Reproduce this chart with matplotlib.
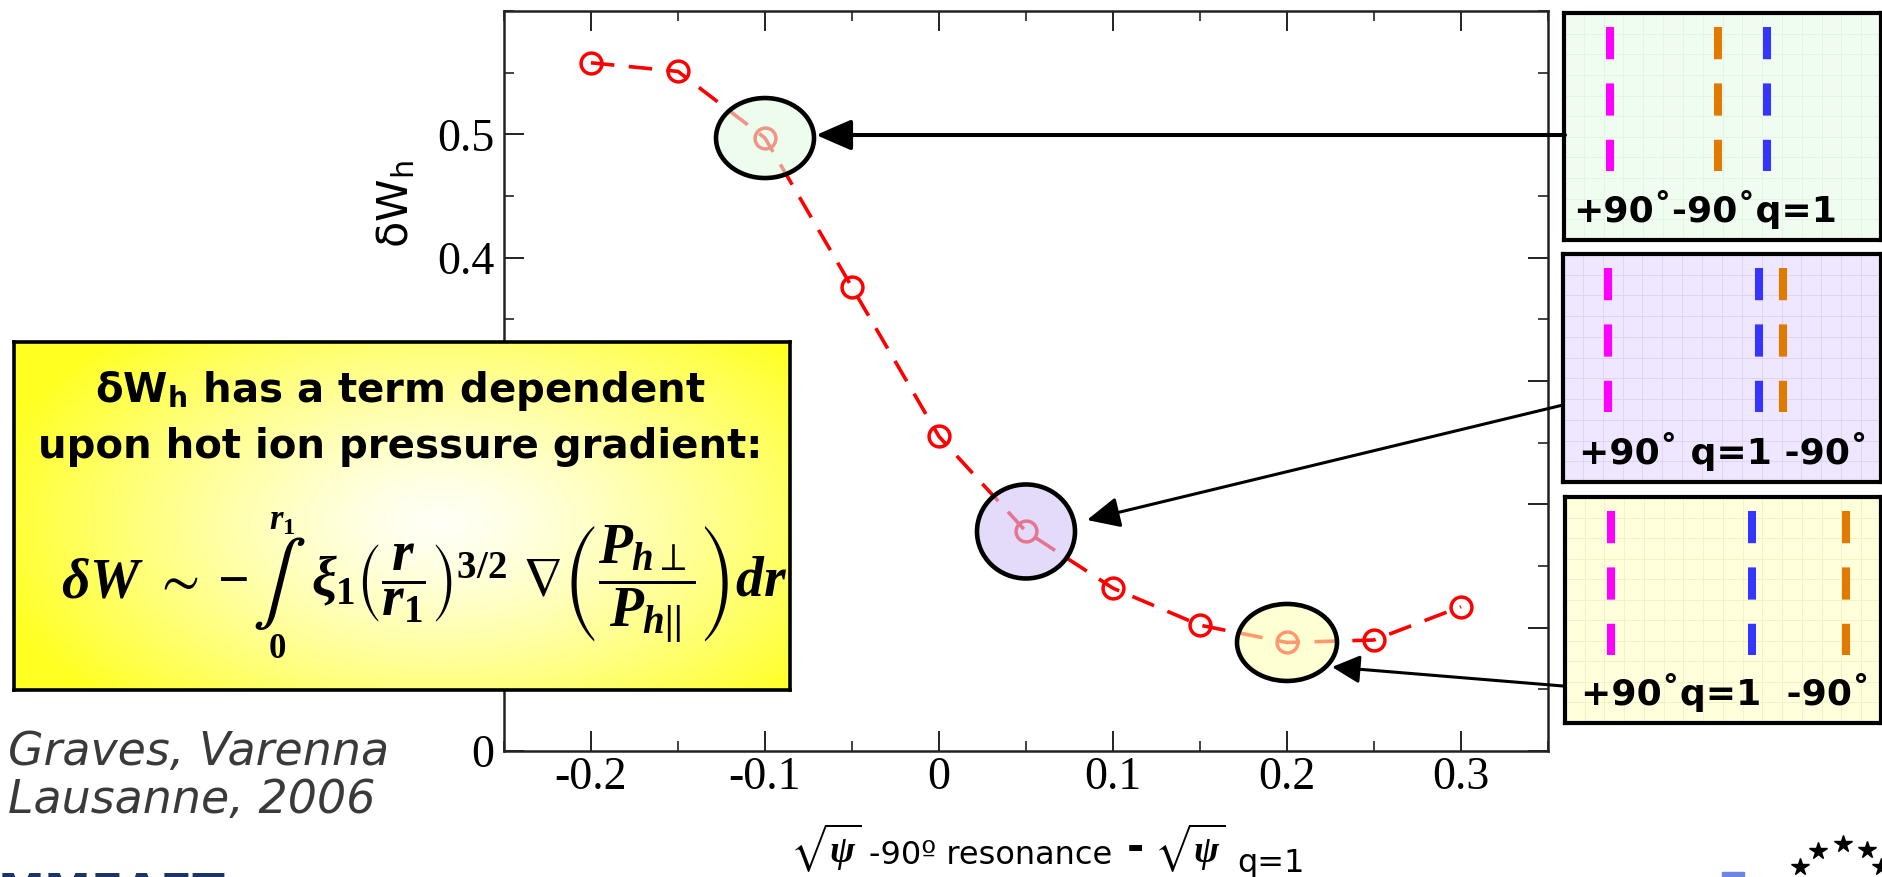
import matplotlib
matplotlib.use('Agg')
import matplotlib.pyplot as plt
import numpy as np
from matplotlib.patches import Ellipse, FancyArrowPatch, ArrowStyle, Rectangle
from matplotlib.lines import Line2D
from matplotlib.ticker import MultipleLocator
from matplotlib.colors import to_rgba

# values
offset = [-0.2, -0.15, -0.1, -0.05, 0.0, 0.05, 0.1, 0.15, 0.2, 0.25, 0.3]
dW_h = [0.558, 0.551, 0.497, 0.376, 0.255, 0.178, 0.132, 0.102, 0.088, 0.090, 0.117]
x_ticks = [-0.2, -0.1, 0.0, 0.1, 0.2, 0.3]
x_tick_labels = ['-0.2', '-0.1', '0', '0.1', '0.2', '0.3']
y_ticks = [0.0, 0.1, 0.2, 0.3, 0.4, 0.5]
y_tick_labels = ['0', '0.1', '0.2', '0.3', '0.4', '0.5']

# highlighted points (index into the series) and the inset panel they belong to
highlight_idx = [2, 5, 8]
highlight_fill = ['#e2fae2', '#d3c4f7', '#ffffb8']

# inset panels: resonance positions as fraction of panel width
panel_labels = ['+90˚-90˚q=1', '+90˚ q=1 -90˚', '+90˚q=1  -90˚']
pos_plus90 = [0.145, 0.142, 0.146]
pos_minus90 = [0.486, 0.692, 0.889]
pos_q1 = [0.640, 0.616, 0.592]
panel_fill = ['#f1fcf1', '#efe7ff', '#ffffdc']
panel_grid = ['#e2f4e2', '#e0d3f7', '#f2f2c6']

W, H = 1883, 877


def fx(x):
    return x / W


def fy(y):
    return 1 - y / H


plt.rcParams['axes.unicode_minus'] = False
plt.rcParams['mathtext.fontset'] = 'custom'
plt.rcParams['mathtext.rm'] = 'Liberation Serif:bold'
plt.rcParams['mathtext.it'] = 'Liberation Serif:bold:italic'
plt.rcParams['mathtext.bf'] = 'Liberation Serif:bold'
plt.rcParams['mathtext.fallback'] = 'stix'

fig = plt.figure(figsize=(W / 100, H / 100), dpi=100)
renderer = fig.canvas.get_renderer()

# ---- main plot
ax = fig.add_axes([fx(504), fy(751), 1044 / W, 740 / H])
ax.plot(offset, dW_h, color='red', ls=(0, (6.5, 4)), lw=2.6, marker='o', ms=15,
        mfc='none', mec='red', mew=2.5, zorder=2)
ax.set_xlim(-0.25, 0.35)
ax.set_ylim(0, 0.6)
ax.set_xticks(x_ticks)
ax.set_xticklabels(x_tick_labels)
ax.set_yticks(y_ticks)
ax.set_yticklabels(y_tick_labels)
ax.xaxis.set_minor_locator(MultipleLocator(0.05))
ax.yaxis.set_minor_locator(MultipleLocator(0.05))
ax.tick_params(which='both', direction='in', top=True, right=True, color='#222222')
ax.tick_params(which='major', length=14.5, width=1.4, pad=4, labelsize=33)
ax.tick_params(which='minor', length=7.2, width=1.2)
ax.tick_params(axis='y', which='major', pad=7)
for lab in ax.get_xticklabels() + ax.get_yticklabels():
    lab.set_family('Liberation Serif')
# labels 0.1-0.3 sit behind the formula box
for val, lab in zip(y_ticks, ax.get_yticklabels()):
    if 0.05 < val < 0.35:
        lab.set_visible(False)
for s in ax.spines.values():
    s.set_linewidth(1.8)
    s.set_color('#222222')

# circled points, sizes in pixels
dx_px = 0.6 / 1044
dy_px = 0.6 / 740
ell_px = [(98, 80), (98, 94), (100, 77)]
for i, fill, (w, h) in zip(highlight_idx, highlight_fill, ell_px):
    ax.add_patch(Ellipse((offset[i], dW_h[i]), w * dx_px, h * dy_px,
                         facecolor=to_rgba(fill, 0.6), edgecolor='black', lw=3.3, zorder=3))

# ---- axis labels
fig.text(fx(396), fy(204), r'$\mathrm{\delta W_h}$', rotation=90, ha='center', va='center',
         fontsize=31, math_fontfamily='dejavusans')


def place_row(pieces, x0, y_base):
    # lay out text pieces left to right, measuring each one
    x = x0
    for s, size, dy, gap, kw in pieces:
        t = fig.text(fx(x + gap), fy(y_base + dy), s, fontsize=size, va='baseline', zorder=10, **kw)
        x += gap + t.get_window_extent(renderer).width


place_row([(r'$\sqrt{\psi}$', 27, 0, 0, {}),
           ('-90º resonance', 23, 2, 8, {}),
           ('-', 30, -2, 14, {'fontweight': 'bold'}),
           (r'$\sqrt{\psi}$', 27, 0, 10, {}),
           ('q=1', 23, 10, 12, {})], 790, 862)

# ---- yellow formula box
bax = fig.add_axes([fx(14), fy(690), 776 / W, 348 / H], zorder=5)
gy, gx = np.mgrid[0:1:200j, 0:1:450j]
r = np.sqrt(((gx - 0.55) / 0.6) ** 2 + ((gy - 0.52) / 0.75) ** 2)
t = np.clip(r, 0, 1) ** 1.3
white = np.array([1.0, 1.0, 0.97])
yellow = np.array([1.0, 1.0, 0.13])
bax.imshow(white * (1 - t[..., None]) + yellow * t[..., None], extent=[0, 1, 0, 1], aspect='auto')
bax.set_xticks([])
bax.set_yticks([])
for s in bax.spines.values():
    s.set_linewidth(2.6)
    s.set_color('black')

fig.text(fx(400), fy(402), 'δW$_{\\mathregular{h}}$ has a term dependent', ha='center', va='baseline',
         fontsize=29, fontweight='bold', zorder=10)
fig.text(fx(400), fy(458), 'upon hot ion pressure gradient:', ha='center', va='baseline',
         fontsize=29, fontweight='bold', zorder=10)

# formula: left part, a tall integral with its limits, then the integrand
lhs = fig.text(fx(61), fy(597), r'$\delta W\ \sim -$', fontsize=40, va='baseline', zorder=10)
x_int = 61 + lhs.get_window_extent(renderer).width + 4
integral = fig.text(fx(x_int), fy(583), r'$\int$', fontsize=58, va='center', zorder=10,
                    math_fontfamily='stix')
int_w = integral.get_window_extent(renderer).width
fig.text(fx(x_int + int_w / 2 + 4), fy(520), r'$r_1$', fontsize=25, ha='center', va='center', zorder=10)
fig.text(fx(x_int + int_w / 2 - 2), fy(648), r'$0$', fontsize=25, ha='center', va='center', zorder=10)
fig.text(fx(x_int + int_w + 6), fy(597),
         r'$\xi_1\left(\dfrac{r}{r_1}\right)^{3/2}\ \nabla\left(\dfrac{P_{h\perp}}{P_{h||}}\right)dr$',
         fontsize=40, va='baseline', zorder=10)

# ---- citation
fig.text(fx(8), fy(765), 'Graves, Varenna', fontsize=33, style='italic', color='#3a3a3a')
fig.text(fx(8), fy(813), 'Lausanne, 2006', fontsize=33, style='italic', color='#3a3a3a')

# ---- inset panels
panel_px = [(1564, 13, 240), (1563, 254, 482), (1565, 497, 723)]
for k, (left, top, bottom) in enumerate(panel_px):
    pax = fig.add_axes([fx(left), fy(bottom), (1881 - left) / W, (bottom - top) / H])
    pax.set_facecolor(panel_fill[k])
    pax.set_xlim(0, 1)
    pax.set_ylim(0, 1)
    pax.set_xticks(np.linspace(0, 1, 17))
    pax.set_yticks(np.linspace(0, 1, 12))
    pax.grid(color=panel_grid[k], lw=0.7)
    pax.tick_params(length=0, labelbottom=False, labelleft=False)
    for s in pax.spines.values():
        s.set_linewidth(3)
        s.set_color('black')
    ht = bottom - top
    y_top = 1 - 14 / ht
    y_bot = 1 - 158 / ht
    for pos, col in [(pos_plus90[k], '#ff00ff'), (pos_minus90[k], '#e07a00'), (pos_q1[k], '#3535ff')]:
        pax.plot([pos, pos], [y_top, y_bot], color=col, lw=5.8, ls=(0, (4, 3)),
                 solid_capstyle='butt', dash_capstyle='butt')
    pax.text(0.03 if k == 0 else 0.05, 0.08, panel_labels[k], transform=pax.transAxes,
             fontsize=26, fontweight='bold', va='baseline', ha='left')

# ---- arrows from panels to circled points
arrows = [((1565, 135), (816, 135), 21.6, 9.4, 2.9),
          ((1563, 405), (1087, 520), 20, 9.4, 2.2),
          ((1563, 686), (1332, 667), 17, 8.6, 2.2)]
for (xa, ya), (xb, yb), hl, hw, lw in arrows:
    fig.add_artist(FancyArrowPatch((fx(xa), fy(ya)), (fx(xb), fy(yb)), transform=fig.transFigure,
                                   arrowstyle=ArrowStyle('-|>', head_length=hl, head_width=hw),
                                   mutation_scale=1, lw=lw, color='black',
                                   shrinkA=0, shrinkB=0, zorder=6))

# ---- cut-off logos at the bottom edge
fig.text(fx(-2), fy(872), 'MMEAET', fontsize=34, fontweight='bold', color='#1d3566', va='top')
fig.add_artist(Rectangle((fx(1722), 0), 22 / W, 5 / H, color='#6f86e0', transform=fig.transFigure))
star_px = [(1800, 867), (1818, 851), (1843, 844), (1867, 850), (1881, 867)]
fig.add_artist(Line2D([fx(p[0]) for p in star_px], [fy(p[1]) for p in star_px],
                      transform=fig.transFigure, ls='none', marker='*', ms=13, color='black'))

fig.savefig('out.png', dpi=100)
